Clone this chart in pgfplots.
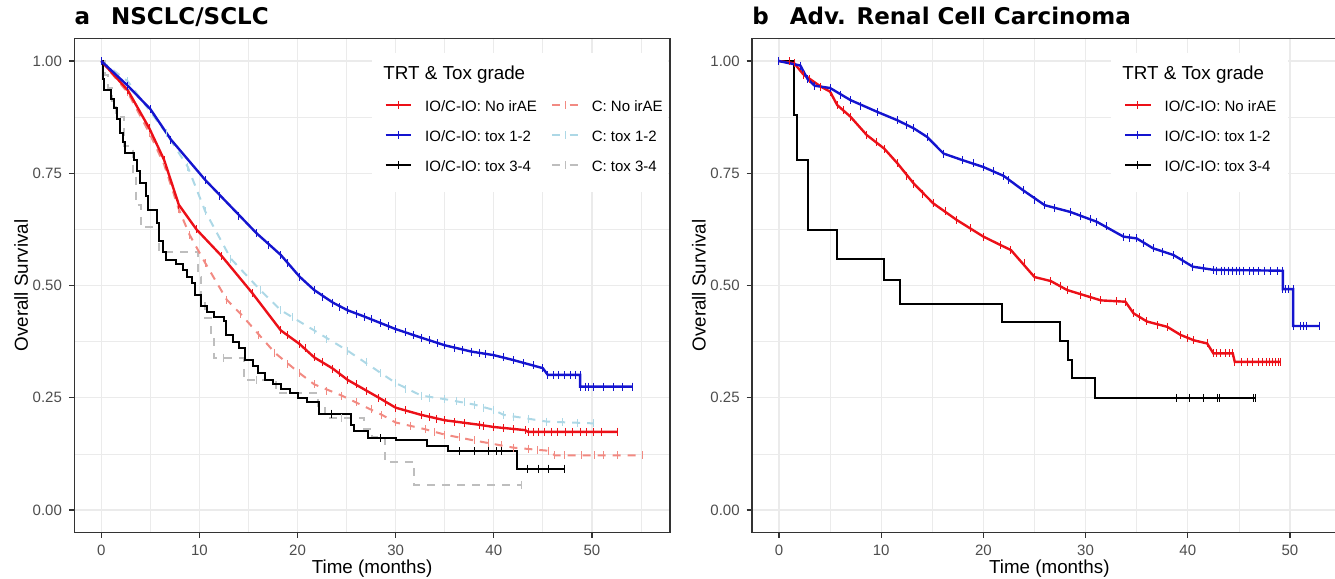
\documentclass[border=0pt]{standalone}
\usepackage{fontspec}
\setmainfont{Liberation Sans}
\newfontfamily\titlefont{DejaVu Sans}
\usepackage{pgfplots}
\pgfplotsset{compat=1.18}
\definecolor{kmred}{HTML}{EC1018}
\definecolor{kmblue}{HTML}{1414CF}
\definecolor{kmsalmon}{HTML}{F28A82}
\definecolor{kmlblue}{HTML}{ADD8E6}
\definecolor{kmgrey}{HTML}{BEBEBE}
\definecolor{gridgray}{HTML}{EBEBEB}
\definecolor{framegray}{HTML}{333333}
\definecolor{ticktxt}{HTML}{4D4D4D}

\pgfplotsset{
  km/.style={
    scale only axis, height=246.95pt,
    ymin=-0.05, ymax=1.05,
    ytick={0,0.25,0.5,0.75,1}, yticklabels={0.00,0.25,0.50,0.75,1.00},
    xtick={0,10,20,30,40,50},
    minor xtick={5,15,25,35,45,55},
    minor ytick={0.125,0.375,0.625,0.875},
    grid=both,
    major grid style={gridgray,line width=0.6pt},
    minor grid style={gridgray,line width=0.35pt},
    axis line style={framegray,line width=0.6pt},
    tick align=outside, tick pos=left,
    major tick length=2.6pt, minor tick length=0pt,
    tick style={framegray,line width=0.6pt},
    tick label style={font=\fontsize{7.5}{8}\selectfont, text=ticktxt},
    /pgf/number format/assume math mode=true,
    every axis x label/.style={at={(axis description cs:0.5,-0.082)},anchor=base,
      font=\fontsize{9.4}{10}\selectfont},
    every axis y label/.style={at={(axis description cs:-0.0779,0.5)},rotate=90,anchor=base,
      font=\fontsize{9.4}{10}\selectfont},
    xlabel={Time (months)}, ylabel={Overall Survival},
    every axis title/.style={at={(axis description cs:0,1.0294)},anchor=base west,inner sep=0pt,
      font=\fontsize{11.5}{12}\selectfont\titlefont\bfseries},
    legend style={draw=none, fill=none, inner xsep=0pt, inner ysep=0pt, outer sep=0pt,
      anchor=north west, row sep=7.5pt, column sep=6.5pt,
      font=\fontsize{7.5}{8}\selectfont,
      nodes={inner sep=0pt, text height=6pt, text depth=1.5pt},
      cells={anchor=base west}},
  },
  kmkey/.style={legend image code/.code={
    \draw[##1,line width=1.1pt] (0pt,3.5pt) -- (12.7pt,3.5pt);
    \draw[##1,solid,line width=0.5pt] (6.35pt,1.5pt) -- (6.35pt,5.5pt);}},
  ioline/.style={line width=1.2pt, mark=|, mark size=2pt, mark options={solid,line width=0.5pt}},
  cline/.style={line width=1pt, dash pattern=on 4pt off 3.5pt, mark=|, mark size=2pt,
    mark options={solid,line width=0.5pt}},
  cens/.style={only marks, mark=|, mark size=2pt, mark options={line width=0.5pt}},
}

\begin{document}
\begin{tikzpicture}
\useasboundingbox (0,0) rectangle (667.5pt,289.5pt);

% ---------------- panel a ----------------
\begin{axis}[km, at={(37.1pt,23.25pt)}, anchor=south west, width=297.9pt,
  xmin=-2.76, xmax=57.96,
  title={a\hspace{10.5pt}NSCLC/SCLC},
  legend columns=2,
  legend style={at={(0.521,0.8757)}}]

\fill[white] (rel axis cs:0.4998,0.6894) rectangle (rel axis cs:0.996,0.9708);
\node[anchor=base west, inner sep=0pt, font=\fontsize{9.4}{10}\selectfont]
  at (rel axis cs:0.5184,0.9162) {TRT \& Tox grade};

% C: tox 3-4
\addplot[kmgrey, line width=1pt, dash pattern=on 4pt off 3.5pt, const plot, forget plot] coordinates {
 (0,1.0) (0.4,0.97) (0.7,0.94) (1.1,0.91) (1.5,0.875) (2.3,0.81) (3.2,0.75) (3.5,0.68)
 (4.0,0.63) (5.9,0.575) (9.9,0.52) (10.2,0.468) (10.6,0.428) (11.2,0.383) (11.5,0.339)
 (14.5,0.29) (17.8,0.26) (22.1,0.232) (22.8,0.205) (26.8,0.18) (27.6,0.163) (28.9,0.107)
 (31.9,0.056) (42.8,0.056)};
\addplot[kmgrey, cens, forget plot] coordinates {(12.5,0.339) (15.8,0.29) (24.5,0.205) (42.8,0.056)};
% C: tox 1-2
\addplot[kmlblue, cline, forget plot] coordinates {
 (0,1.0) (2.7,0.955) (6.6,0.84) (8.8,0.765) (10.6,0.665) (13.2,0.56) (16.2,0.49) (18.3,0.445)
 (21.7,0.40) (25.1,0.355) (28.5,0.305) (30,0.283) (32.6,0.255) (35,0.247) (38,0.235)
 (40,0.223) (41,0.212) (45.4,0.197) (50.2,0.193)};
\addplot[kmlblue, cens, forget plot] coordinates {
 (19.5,0.43) (23,0.38) (27,0.33) (31,0.27) (33.5,0.25) (36.2,0.243) (37,0.24) (39,0.228)
 (42,0.208) (43.5,0.203) (47,0.195) (48.5,0.194)};
% C: No irAE
\addplot[kmsalmon, cline, forget plot] coordinates {
 (0,1.0) (2.7,0.93) (4.9,0.84) (6.4,0.77) (7.9,0.67) (9,0.613) (10.6,0.55) (12.8,0.468)
 (14.2,0.437) (17.7,0.35) (20.2,0.305) (21.7,0.28) (24.5,0.255) (28.6,0.212) (30,0.195)
 (33,0.18) (35,0.168) (38,0.155) (42,0.139) (45.6,0.132) (46.2,0.122) (55.2,0.122)};
\addplot[kmsalmon, cens, forget plot] coordinates {
 (16,0.39) (19,0.325) (23,0.265) (26,0.24) (27.5,0.225) (31.5,0.188) (34,0.173) (36.5,0.162)
 (39.5,0.15) (40.8,0.145) (43.5,0.137) (44.5,0.134) (47.2,0.122) (48.9,0.122) (50.3,0.122)
 (51.2,0.122) (52.6,0.122) (55.2,0.122)};
% IO/C-IO: tox 3-4
\addplot[black, line width=1pt, const plot, forget plot] coordinates {
 (0,1.0) (0.2,0.96) (0.3,0.935) (1.0,0.915) (1.3,0.896) (1.6,0.87) (1.9,0.84) (2.2,0.82)
 (2.4,0.795) (3.3,0.78) (3.6,0.755) (3.9,0.728) (4.6,0.70) (4.8,0.668) (5.7,0.64) (5.9,0.60)
 (6.3,0.575) (6.6,0.557) (7.6,0.548) (8.3,0.535) (8.7,0.52) (9.2,0.505) (9.6,0.48)
 (10.2,0.455) (10.8,0.44) (11.5,0.43) (12.5,0.42) (12.7,0.39) (13.4,0.375) (14.0,0.36)
 (14.6,0.335) (15.5,0.32) (16.0,0.305) (16.7,0.29) (17.5,0.28) (18.3,0.27) (19.2,0.26)
 (20.0,0.25) (21.0,0.24) (22.2,0.215) (25.5,0.19) (25.8,0.175) (27.2,0.16) (30.0,0.155)
 (33.2,0.143) (35.3,0.131) (42.4,0.092) (47.2,0.092)};
\addplot[black, cens, forget plot] coordinates {
 (23.5,0.215) (28.5,0.16) (36.5,0.131) (38,0.131) (39.5,0.131) (40.3,0.131) (40.8,0.131)
 (43.4,0.092) (44.6,0.092) (45.6,0.092) (47.2,0.092)};
% IO/C-IO: No irAE
\addplot[kmred, ioline, forget plot] coordinates {
 (0,1.0) (2.7,0.935) (4.9,0.85) (6.4,0.78) (7.9,0.68) (9.7,0.625) (12.3,0.565) (15.4,0.483)
 (18.3,0.40) (20.2,0.37) (21.7,0.34) (23.6,0.315) (25.1,0.29) (28.3,0.25) (30,0.228)
 (32.6,0.212) (35,0.2) (38.5,0.19) (40,0.185) (43.2,0.178) (43.5,0.174) (52.6,0.174)};
\addplot[kmred, cens, forget plot] coordinates {
 (19,0.39) (20.8,0.36) (22.5,0.33) (24.3,0.305) (26,0.28) (27,0.265) (29,0.24) (31,0.222)
 (33.5,0.207) (34.2,0.203) (36,0.196) (37,0.193) (39,0.188) (41,0.182) (42,0.18) (44,0.174)
 (44.6,0.174) (45.2,0.174) (45.9,0.174) (46.5,0.174) (47.3,0.174) (48,0.174) (48.8,0.174)
 (49.4,0.174) (50.2,0.174) (51,0.174) (52.6,0.174)};
% IO/C-IO: tox 1-2
\addplot[kmblue, ioline, forget plot] coordinates {
 (0,1.0) (2.7,0.945) (5,0.893) (7.1,0.825) (10.6,0.735) (15.8,0.617) (18.3,0.568) (20.2,0.52)
 (21.7,0.49) (23.6,0.462) (25.1,0.445) (26.8,0.431) (30,0.403) (32.6,0.384) (35,0.367)
 (37.7,0.353) (40,0.345) (42,0.334) (45,0.316) (45.5,0.301) (48.8,0.301) (48.8,0.275)
 (54.1,0.275)};
\addplot[kmblue, cens, forget plot] coordinates {
 (12,0.70) (14,0.655) (17,0.59) (19,0.55) (22.5,0.475) (24.3,0.452) (26,0.437) (27.5,0.425)
 (28.5,0.416) (29.3,0.41) (31,0.397) (31.8,0.39) (33.5,0.378) (34.3,0.372) (36,0.362)
 (36.8,0.357) (38.5,0.35) (39.2,0.348) (41,0.34) (43,0.327) (44,0.322) (46.1,0.301)
 (46.6,0.301) (47.2,0.301) (47.8,0.301) (48.3,0.301) (49.3,0.275) (49.7,0.275) (50.2,0.275)
 (51.2,0.275) (52.2,0.275) (53.1,0.275) (54.1,0.275)};

\addlegendimage{kmkey, kmred}
\addlegendentry{\makebox[56.5pt][l]{IO/C-IO: No irAE}}
\addlegendimage{kmkey, kmsalmon, dash pattern=on 4pt off 4.7pt}
\addlegendentry{C: No irAE}
\addlegendimage{kmkey, kmblue}
\addlegendentry{\makebox[56.5pt][l]{IO/C-IO: tox 1-2}}
\addlegendimage{kmkey, kmlblue, dash pattern=on 4pt off 4.7pt}
\addlegendentry{C: tox 1-2}
\addlegendimage{kmkey, black}
\addlegendentry{\makebox[56.5pt][l]{IO/C-IO: tox 3-4}}
\addlegendimage{kmkey, kmgrey, dash pattern=on 4pt off 4.7pt}
\addlegendentry{C: tox 3-4}
\end{axis}

% ---------------- panel b ----------------
\begin{axis}[km, at={(375.95pt,23.25pt)}, anchor=south west, width=297.4pt,
  xmin=-2.645, xmax=55.55,
  title={b\hspace{10.5pt}Adv. Renal Cell Carcinoma},
  legend columns=1,
  legend style={at={(0.6256,0.8757)}}]

\fill[white] (rel axis cs:0.6037,0.6894) rectangle (rel axis cs:0.9013,0.9708);
\node[anchor=base west, inner sep=0pt, font=\fontsize{9.4}{10}\selectfont]
  at (rel axis cs:0.6222,0.9162) {TRT \& Tox grade};

% IO/C-IO: tox 3-4
\addplot[black, line width=1pt, const plot, forget plot] coordinates {
 (0,1.0) (1.5,0.88) (1.8,0.78) (2.8,0.623) (5.7,0.56) (10.3,0.512) (11.8,0.46) (21.8,0.418)
 (27.5,0.377) (28.3,0.334) (28.7,0.293) (30.9,0.25) (46.6,0.25)};
\addplot[black, cens, forget plot] coordinates {
 (38.9,0.25) (40.2,0.25) (41.5,0.25) (42.9,0.25) (43.1,0.25) (46.4,0.25) (46.6,0.25)};
% IO/C-IO: No irAE
\addplot[kmred, ioline, forget plot] coordinates {
 (0,1.0) (1.5,0.995) (2.4,0.97) (4.1,0.943) (5,0.932) (5.7,0.902) (7,0.876) (8.6,0.835)
 (10.3,0.805) (11.6,0.772) (13.2,0.727) (15.1,0.683) (17.4,0.646) (20,0.609) (21.7,0.59)
 (22.7,0.579) (25,0.519) (26.6,0.51) (28.2,0.49) (31.5,0.467) (33.9,0.464) (34.7,0.438)
 (36,0.42) (38,0.408) (39.3,0.39) (40.6,0.378) (41.9,0.371) (42.5,0.349) (44.4,0.349)
 (44.6,0.33) (49.1,0.33)};
\addplot[kmred, cens, forget plot] coordinates {
 (1,1.0) (3,0.96) (6.3,0.89) (9.5,0.82) (12.5,0.745) (14,0.705) (16.3,0.665) (18.7,0.628)
 (24,0.55) (27.5,0.5) (29.5,0.48) (30.5,0.475) (33,0.465) (35.3,0.43) (37,0.412) (40,0.383)
 (42.8,0.349) (43.2,0.349) (43.7,0.349) (44.1,0.349) (45.3,0.33) (45.8,0.33) (46.3,0.33)
 (46.9,0.33) (47.3,0.33) (47.7,0.33) (48,0.33) (48.3,0.33) (48.6,0.33) (48.9,0.33) (49.1,0.33)};
% IO/C-IO: tox 1-2
\addplot[kmblue, ioline, forget plot] coordinates {
 (0,1.0) (2.1,0.99) (2.8,0.96) (3.5,0.945) (5,0.94) (7,0.913) (9.6,0.887) (11.6,0.868)
 (13.2,0.85) (14.5,0.831) (16.1,0.794) (18,0.779) (20,0.764) (22,0.744) (23.9,0.712)
 (26,0.679) (28.5,0.664) (31.1,0.642) (33.7,0.609) (35,0.605) (36.6,0.583) (38.6,0.568)
 (40.5,0.542) (42.5,0.535) (49.3,0.533) (49.3,0.492) (50.3,0.492) (50.3,0.41) (52.9,0.41)};
\addplot[kmblue, cens, forget plot] coordinates {
 (6,0.925) (8,0.9) (12.5,0.858) (19,0.772) (21,0.755) (22.5,0.735) (25,0.69) (27,0.672)
 (29.5,0.655) (30.5,0.648) (32,0.632) (34.3,0.607) (35.7,0.595) (37.5,0.575) (39.5,0.555)
 (41.5,0.538) (42.8,0.533) (43.3,0.533) (43.6,0.533) (44,0.533) (44.4,0.533) (44.8,0.533)
 (45.1,0.533) (45.5,0.533) (46,0.533) (46.4,0.533) (46.9,0.533) (47.5,0.533) (48.1,0.533)
 (48.8,0.533) (49.6,0.492) (49.9,0.492) (51.0,0.41) (51.3,0.41) (51.6,0.41) (52.9,0.41)};

\addlegendimage{kmkey, kmred}
\addlegendentry{IO/C-IO: No irAE}
\addlegendimage{kmkey, kmblue}
\addlegendentry{IO/C-IO: tox 1-2}
\addlegendimage{kmkey, black}
\addlegendentry{IO/C-IO: tox 3-4}
\end{axis}
\end{tikzpicture}
\end{document}
